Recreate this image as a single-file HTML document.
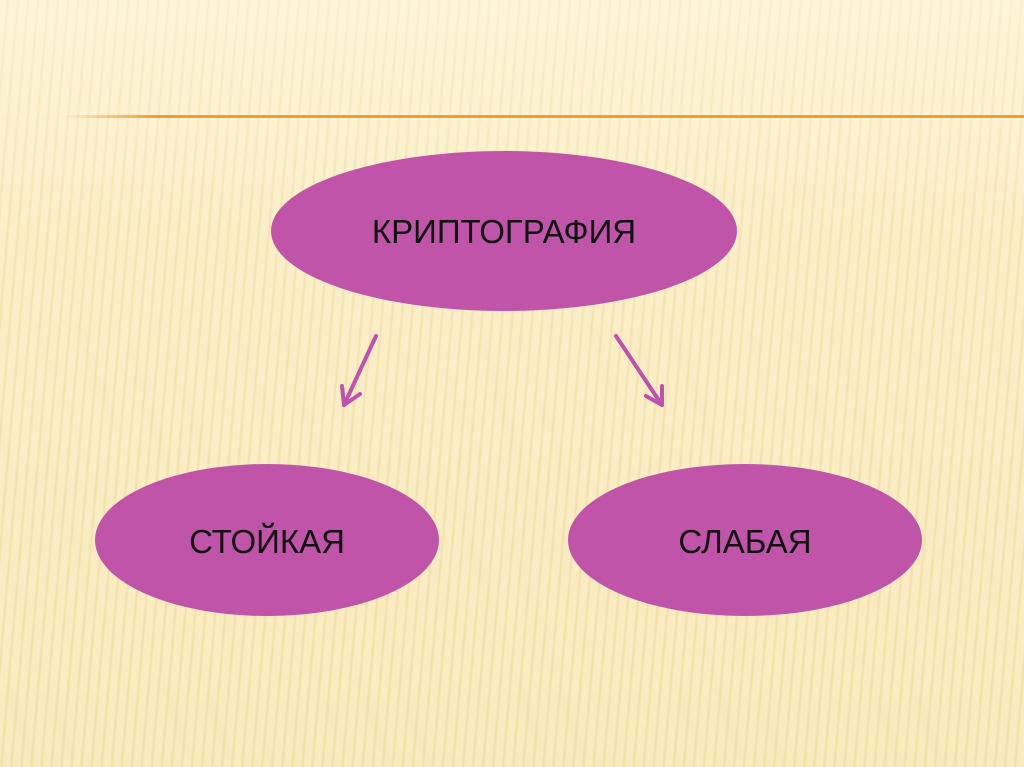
<!DOCTYPE html>
<html><head><meta charset="utf-8"><style>
html,body{margin:0;padding:0}
body{width:1024px;height:767px;overflow:hidden;position:relative;font-family:"Liberation Sans",sans-serif;
background:repeating-linear-gradient(95deg,#fbeec5 0px,#fbeec5 6px,#f1dea8 8px,#fbeec5 10px);}
.shade{position:absolute;inset:0;background:linear-gradient(180deg,rgba(255,250,230,0.6) 0%,rgba(255,245,215,0.2) 30%,rgba(240,215,150,0.15) 100%);}
</style></head><body>
<div class="shade"></div>
<svg width="1024" height="767" style="position:absolute;left:0;top:0">
<defs><linearGradient id="ol" gradientUnits="userSpaceOnUse" x1="60" y1="0" x2="1024" y2="0"><stop offset="0" stop-color="#f0a030" stop-opacity="0"/><stop offset="0.1" stop-color="#eda030"/><stop offset="1" stop-color="#eda030"/></linearGradient></defs>
<rect x="60" y="115" width="964" height="3" fill="url(#ol)"/>
<ellipse cx="504" cy="231" rx="233" ry="80" fill="#c054a8"/>
<ellipse cx="267" cy="540" rx="172" ry="76" fill="#c054a8"/>
<ellipse cx="745" cy="540" rx="177" ry="76" fill="#c054a8"/>
<g stroke="#bf52b0" stroke-width="4" fill="none" stroke-linecap="round" stroke-linejoin="round">
<line x1="376" y1="336" x2="344" y2="405"/>
<polyline points="342,386 344,405 360,394"/>
<line x1="616" y1="336" x2="662" y2="405"/>
<polyline points="646,396 662,405 662,386"/>
</g>
<g font-family="Liberation Sans, sans-serif" font-size="33" fill="#111" text-anchor="middle">
<text x="504" y="243">КРИПТОГРАФИЯ</text>
<text x="267" y="553">СТОЙКАЯ</text>
<text x="745" y="553">СЛАБАЯ</text>
</g>
</svg>
</body></html>
